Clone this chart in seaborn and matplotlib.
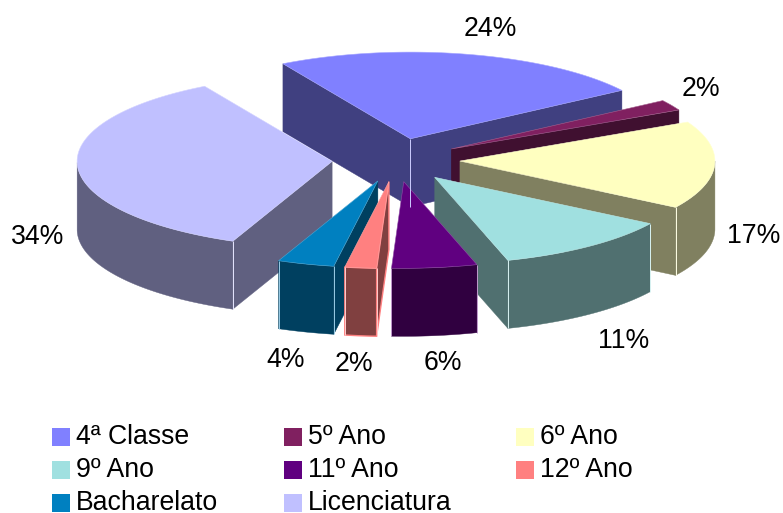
import numpy as np
import matplotlib
matplotlib.use("Agg")
import matplotlib.pyplot as plt
from matplotlib.patches import Polygon, Rectangle
import seaborn as sns

categories = ["4ª Classe", "5º Ano", "6º Ano", "9º Ano", "11º Ano", "12º Ano", "Bacharelato", "Licenciatura"]
# printed labels, and the share of the circle each slice really takes in the picture
labels = ["24%", "2%", "17%", "11%", "6%", "2%", "4%", "34%"]
shares = [23.9, 2.0, 16.4, 11.4, 5.4, 2.0, 3.6, 35.3]
colors = ["#8080FF", "#802060", "#FFFFC0", "#A0E0E0", "#600080", "#FF8080", "#0080C0", "#C0C0FF"]

sns.set_theme(style="white")
plt.rcParams["font.family"] = ["Liberation Sans", "DejaVu Sans"]

# pie geometry, in pixels of the picture
CX, CY = 396, 160
RADIUS = 255
SQUASH = 0.34
EXPLODE = 64
DEPTH = 68
START = 120

palette = sns.color_palette(colors)
fig, ax = plt.subplots(figsize=(7.83, 5.13), dpi=100)
fig.subplots_adjust(0, 0, 1, 1)
ax.set_xlim(0, 783)
ax.set_ylim(513, 0)
ax.axis("off")


def point(x0, y0, r, deg):
    t = np.radians(deg)
    return x0 + r * np.cos(t), y0 - r * SQUASH * np.sin(t)


def lighter(c, k=0.6):
    return tuple(np.array(c) * (1 - k) + k)


def draw_slice(a1, a2, col, outlined=False):
    # a1 > a2, the slice runs clockwise
    mid = np.radians((a1 + a2) / 2)
    x0 = CX + EXPLODE * np.cos(mid)
    y0 = CY - EXPLODE * SQUASH * np.sin(mid)
    side = tuple(np.array(col) * 0.5)
    line = col if outlined else side
    lw = 1.0 if outlined else 0.3

    # radial walls, only the ones turned to the viewer
    show1 = np.cos(np.radians(a1)) < 0
    show2 = np.cos(np.radians(a2)) > 0
    for a, show in ((a1, show1), (a2, show2)):
        if show:
            ex, ey = point(x0, y0, RADIUS, a)
            w = [(x0, y0), (ex, ey), (ex, ey + DEPTH), (x0, y0 + DEPTH)]
            ax.add_patch(Polygon(w, closed=True, fc=side, ec=line, lw=lw))

    # outer wall, only the front part of the rim can be seen
    arc = np.linspace(a2, a1, 120)
    front = arc[np.sin(np.radians(arc)) < 0]
    if len(front) > 1:
        xs, ys = point(x0, y0, RADIUS, front)
        rim = list(zip(xs, ys)) + list(zip(xs[::-1], ys[::-1] + DEPTH))
        ax.add_patch(Polygon(rim, closed=True, fc=side, ec=line, lw=lw))

    # light lines on the corners
    for a in (a1, a2):
        if np.sin(np.radians(a)) < 0:
            ex, ey = point(x0, y0, RADIUS, a)
            ax.plot([ex, ex], [ey, ey + DEPTH], color=lighter(col), lw=0.7, solid_capstyle="butt")
    if show1 and show2:
        ax.plot([x0, x0], [y0, y0 + DEPTH], color=lighter(col), lw=0.7, solid_capstyle="butt")

    xs, ys = point(x0, y0, RADIUS, arc)
    top = [(x0, y0)] + list(zip(xs, ys))
    ax.add_patch(Polygon(top, closed=True, fc=col, ec=lighter(col, 0.3), lw=0.4))


angles = START - np.cumsum([0] + shares) * 3.6
order = [0, 1, 7, 2, 3, 4, 6, 5]
for i in order:
    draw_slice(angles[i], angles[i + 1], palette[i], outlined=(categories[i] == "12º Ano"))

label_pos = [(490, 29), (701, 89), (754, 236), (624, 341), (443, 363), (354, 364), (286, 360), (38, 237)]
for text, (x, y) in zip(labels, label_pos):
    ax.text(x, y, text, fontsize=19.2, color="black", ha="center", va="center")

# legend, row by row
for i, (name, col) in enumerate(zip(categories, palette)):
    lx = 52 + 232 * (i % 3)
    ly = 437 + 33 * (i // 3)
    ax.add_patch(Rectangle((lx, ly - 9), 18, 18, fc=col, ec="none"))
    ax.text(lx + 24, ly, name, fontsize=19.2, color="black", ha="left", va="center")

fig.savefig("out.png", dpi=100)
